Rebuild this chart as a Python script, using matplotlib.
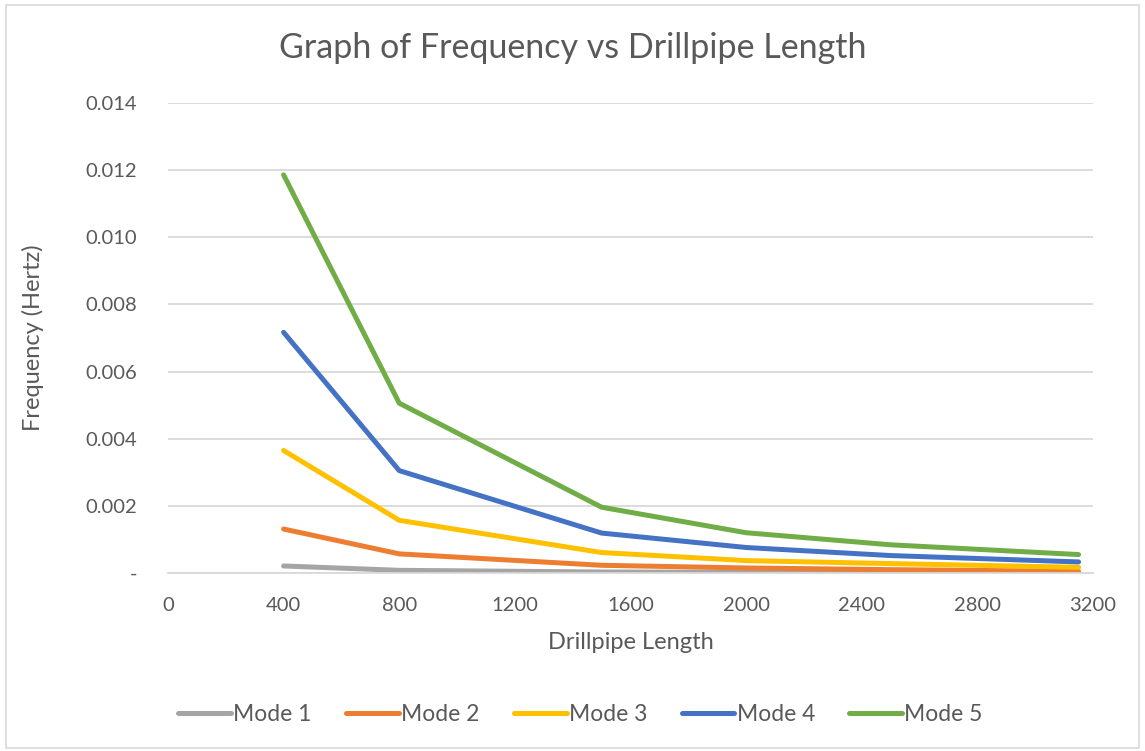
import matplotlib.pyplot as plt
from matplotlib.patches import Rectangle
from matplotlib.ticker import FuncFormatter

# drillpipe lengths
lengths = [400, 800, 1500, 2000, 2500, 3150]

# frequency (Hz) per mode
mode1 = [0.00021, 0.00008, 0.00003, 0.00002, 0.00002, 0.00002]
mode2 = [0.00131, 0.00057, 0.00023, 0.00015, 0.00010, 0.00005]
mode3 = [0.00365, 0.00157, 0.00061, 0.00037, 0.00028, 0.00017]
mode4 = [0.00717, 0.00305, 0.00119, 0.00076, 0.00052, 0.00033]
mode5 = [0.01186, 0.00506, 0.00196, 0.00120, 0.00084, 0.00055]

series = [mode1, mode2, mode3, mode4, mode5]
labels = ['Mode 1', 'Mode 2', 'Mode 3', 'Mode 4', 'Mode 5']
colors = ['#A5A5A5', '#ED7D31', '#FFC000', '#4472C4', '#70AD47']

x_ticks = [0, 400, 800, 1200, 1600, 2000, 2400, 2800, 3200]
y_ticks = [0, 0.002, 0.004, 0.006, 0.008, 0.010, 0.012, 0.014]

text_col = '#595959'
grid_col = '#D9D9D9'

plt.rcParams['font.family'] = ['Lato', 'DejaVu Sans']


def y_fmt(v, pos):
    # excel accounting style shows zero as a dash
    if abs(v) < 1e-12:
        return '-'
    return '{:.3f}'.format(v)


def main():
    fig = plt.figure(figsize=(11.45, 7.51), dpi=100)
    ax = fig.add_axes([0.1467, 0.237, 0.8079, 0.6258])

    for ys, lab, c in zip(series, labels, colors):
        ax.plot(lengths, ys, color=c, lw=3.6, label=lab,
                solid_capstyle='round', solid_joinstyle='round')

    ax.set_xlim(0, 3200)
    ax.set_ylim(0, 0.014)
    ax.set_xticks(x_ticks)
    ax.set_yticks(y_ticks)
    ax.yaxis.set_major_formatter(FuncFormatter(y_fmt))
    ax.grid(axis='y', color=grid_col, lw=1.3)
    ax.set_axisbelow(True)
    for s in ['top', 'right', 'left']:
        ax.spines[s].set_visible(False)
    ax.spines['bottom'].set_color(grid_col)
    ax.spines['bottom'].set_linewidth(1.3)
    ax.tick_params(length=0, labelsize=14.5, labelcolor=text_col)
    ax.tick_params(axis='x', pad=17)
    ax.tick_params(axis='y', pad=22)

    ax.set_xlabel('Drillpipe Length', fontsize=17, color=text_col, labelpad=13)
    ax.set_ylabel('Frequency (Hertz)', fontsize=17, color=text_col, labelpad=30)
    fig.suptitle('Graph of Frequency vs Drillpipe Length', fontsize=24.5,
                 color=text_col, y=0.958)

    fig.legend(loc='center', bbox_to_anchor=(0.507, 0.049), ncol=5,
               frameon=False, fontsize=16.5, handlelength=2.3,
               handletextpad=0.1, columnspacing=1.5, labelcolor=text_col)

    # light chart-area border like the excel export
    fig.patches.append(Rectangle((0.005, 0.004), 0.99, 0.99,
                                 transform=fig.transFigure, fill=False,
                                 edgecolor=grid_col, lw=1.2))

    fig.savefig('out.png', dpi=100)


if __name__ == "__main__":
    main()
